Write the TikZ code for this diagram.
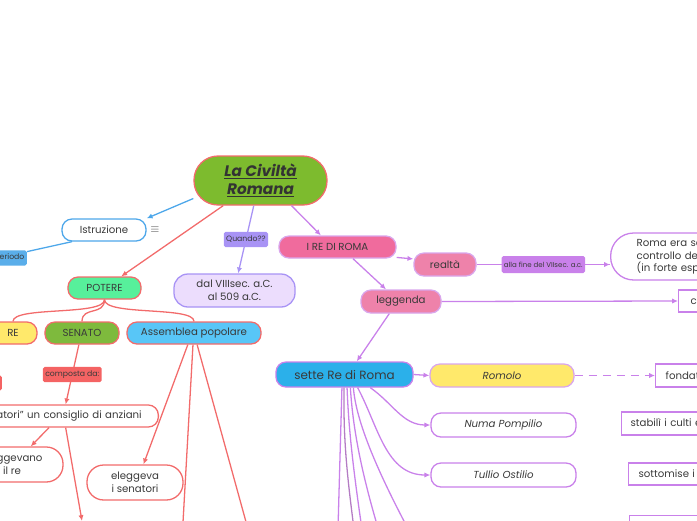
\documentclass[tikz,border=0pt]{standalone}
\usepackage{fontspec}
\setmainfont{Poppins}
\usetikzlibrary{arrows.meta}

\definecolor{cGreen}{HTML}{7DBB2E}
\definecolor{cRed}{HTML}{F26B6B}
\definecolor{cRedTag}{HTML}{F46363}
\definecolor{cBlue}{HTML}{4DA7EA}
\definecolor{cBlueTag}{HTML}{5AAEEA}
\definecolor{cMint}{HTML}{57F09B}
\definecolor{cViolet}{HTML}{A893F5}
\definecolor{cLilac}{HTML}{ECDDFD}
\definecolor{cPink}{HTML}{F06B9D}
\definecolor{cPinkSoft}{HTML}{EE82AA}
\definecolor{cPurple}{HTML}{C981EA}
\definecolor{cPurpleSoft}{HTML}{D9A6EC}
\definecolor{cSky}{HTML}{2BB0EA}
\definecolor{cSkyLight}{HTML}{58C6F7}
\definecolor{cYellow}{HTML}{FFE96B}
\definecolor{cOlive}{HTML}{7EBA3D}
\definecolor{cDark}{HTML}{B47CC4}
\definecolor{textgray}{HTML}{3A3A3A}

\begin{document}
\begin{tikzpicture}[x=0.03cm, y=-0.03cm,
    txt/.style={text=textgray, font=\fontsize{8.7}{10.8}\selectfont},
    box/.style={txt, draw, line width=1.1pt, rounded corners=0.3cm, minimum height=0.66cm, inner sep=1pt, align=center},
    tag/.style={text=textgray, font=\fontsize{6.6}{8}\selectfont, rounded corners=1.5pt, inner sep=2pt, minimum height=0.46cm},
    stub/.style={txt, draw=cPurple, line width=1.1pt, anchor=west, text width=8cm, align=left, minimum height=0.69cm},
    arr/.style={-{Latex[length=5pt,width=4.5pt]}},
    redl/.style={draw=cRed, line width=1.1pt},
    bluel/.style={draw=cBlue, line width=1.1pt},
    violetl/.style={draw=cViolet, line width=1.1pt},
    purplel/.style={draw=cPurple, line width=1.1pt}
  ]
    \useasboundingbox (0,0) rectangle (697,520);
    \clip (0,0) rectangle (697,520);

    % centre
    \node[box, fill=cGreen, draw=cRed, minimum width=3.99cm, minimum height=1.47cm, rounded corners=0.72cm,
          text=black!80, font=\fontsize{13}{15.5}\selectfont\bfseries\itshape] (title) at (260.5,180.5) {\underline{La Civiltà}\\\underline{Romana}};

    % left branch
    \node[box, draw=cBlue, fill=white, minimum width=2.52cm] (istr) at (104,230) {Istruzione};
    \node[text=textgray] (istrnote) at (155,230) {$\equiv$};
    \node[tag, fill=cBlueTag, anchor=east] (periodo) at (27,258) {periodo};
    \node[box, fill=cMint, draw=cRed, minimum width=2.19cm] (potere) at (104.5,288) {POTERE};

    \node[box, fill=cYellow, draw=cRed, minimum width=1.44cm] (re) at (13,333) {RE};
    \node[box, fill=cOlive, draw=cRed, minimum width=2.22cm] (senato) at (82,333) {SENATO};
    \node[box, fill=cSkyLight, draw=cRed, minimum width=4.02cm] (assemblea) at (194,333) {Assemblea popolare};
    \node[tag, fill=cRedTag, anchor=east, minimum width=1cm] (retag) at (2,383) {};

    \node[box, fill=white, draw=cRed, anchor=east, text width=8cm, align=right, inner xsep=0.5cm] (consiglio) at (159,416) {i “senatori” un consiglio di anziani};
    \node[box, fill=white, draw=cRed, minimum width=3.06cm, minimum height=1.05cm, rounded corners=0.5cm] (eleggevano) at (12,464.5) {eleggevano\\il re};
    \node[box, fill=white, draw=cRed, minimum width=2.88cm, minimum height=1.05cm, rounded corners=0.5cm] (eleggeva) at (135,482.5) {eleggeva\\i senatori};
    \coordinate (senDown) at (82,521);
    \coordinate (assA) at (182,540);
    \coordinate (assB) at (251,540);

    % middle
    \node[box, fill=cLilac, draw=cViolet, minimum width=3.63cm, minimum height=0.99cm, rounded corners=0.42cm] (dal) at (234.5,290.5) {dal VIIIsec. a.C.\\al 509 a.C.};

    % right branch
    \node[box, fill=cPink, draw=cPurpleSoft, minimum width=3.51cm] (rere) at (337.5,247) {I RE DI ROMA};
    \node[box, fill=cPinkSoft, draw=cPurpleSoft, minimum width=1.86cm, minimum height=0.69cm] (realta) at (445,264.5) {realtà};
    \node[box, fill=white, draw=cPurple, anchor=west, text width=5cm, align=left, inner xsep=0.78cm,
          minimum height=1.41cm, rounded corners=0.69cm, font=\fontsize{8.7}{11}\selectfont] (romaera) at (610,256.5)
          {Roma era sotto il\\controllo degli Etruschi\\(in forte espansione)};
    \node[box, fill=cPinkSoft, draw=cPurpleSoft, minimum width=2.4cm, minimum height=0.69cm] (leggenda) at (401,301.5) {leggenda};
    \node[stub, inner xsep=0.36cm, minimum height=0.66cm] (co) at (678,301) {come racconta la tradizione};

    \node[box, fill=cSky, draw=cPurple, minimum width=4.11cm, minimum height=0.75cm,
          font=\fontsize{10.2}{12}\selectfont] (sette) at (344.5,374.5) {sette Re di Roma};
    \node[box, fill=cYellow, draw=cPurpleSoft, minimum width=4.32cm, minimum height=0.69cm, font=\fontsize{8.7}{10.8}\itshape] (romolo) at (502,375.5) {Romolo};
    \node[box, fill=white, draw=cPurple, minimum width=4.35cm, minimum height=0.72cm, font=\fontsize{8.7}{10.8}\itshape] (numa) at (503.5,425) {Numa Pompilio};
    \node[box, fill=white, draw=cPurple, minimum width=4.35cm, minimum height=0.72cm, font=\fontsize{8.7}{10.8}\itshape] (tullio) at (503.5,475) {Tullio Ostilio};

    \node[stub, inner xsep=0.3cm] (fondat) at (655,375.5) {fondatore di Roma};
    \node[stub, inner xsep=0.27cm] (stabili) at (621,423.5) {stabilì i culti e le leggi};
    \node[stub, inner xsep=0.3cm, minimum height=0.66cm] (sottomise) at (628,474) {sottomise i vicini};
    \node[stub] (nextfact) at (629,527) {};

    % connectors from the centre
    \draw[bluel, arr] (title.195) -- (istr.north east);
    \draw[bluel] (istr.200) -- (periodo.20);
    \draw[redl, arr] (title.214) -- (potere);
    \draw[violetl, arr] (title.255) -- node[tag, fill=cViolet] (quando) {Quando??} (dal.78);
    \draw[purplel, arr] (title.-39) -- (rere.145);

    % potere
    \draw[redl] (potere.south) .. controls (104.5,316) and (13,306) .. (re.north);
    \draw[redl] (potere.south) .. controls (104.5,316) and (82,306) .. (senato.north);
    \draw[redl] (potere.south) .. controls (104.5,316) and (194,306) .. (assemblea.north);
    \draw[redl, arr] (senato.-105) -- node[tag, fill=cRedTag] (composta) {composta da:} ([xshift=-2.8cm]consiglio.north east);
    \draw[redl, arr] ([xshift=-3.3cm]consiglio.south east) -- (eleggevano.44);
    \draw[redl, arr] ([xshift=-2.8cm]consiglio.south east) -- (senDown);
    \draw[redl, arr] (assemblea.-118) -- (eleggeva.65);
    \draw[redl, arr] (assemblea.-95) -- (assA);
    \draw[redl, arr] (assemblea.-75) -- (assB);

    % re di roma
    \draw[purplel, arr] (rere.-10) -- (realta.170);
    \draw[purplel] (realta.east) -- node[tag, fill=cPurple, font=\fontsize{6}{7}\selectfont, minimum height=0.51cm] (fine) {alla fine del VIIsec. a.c.} (realta.east -| romaera.west);
    \draw[purplel, arr] (fine.east) -- (fine.east -| romaera.west);
    \draw[purplel, arr] (rere.-37) -- (leggenda.141);
    \draw[purplel, arr] (leggenda.east) -- (co.west);
    \draw[purplel, arr] (leggenda.-134) -- (sette.47);

    % sette re
    \draw[purplel, arr] (sette.east) -- (romolo.west);
    \draw[purplel, arr, dashed, dash pattern=on 7pt off 5pt] (romolo.east) -- (fondat.west);
    \draw[purplel, arr] (sette.-27) to[out=-35, in=180] (numa.west);
    \draw[purplel, arr] (sette.-45) to[out=-62, in=180] (tullio.west);
    \draw[purplel] (sette.-101) -- (336,600);
    \draw[draw=cDark, line width=1.1pt] (sette.-92) .. controls (343,450) and (349,490) .. (358,560);
    \draw[purplel] (sette.-79) .. controls (349,440) and (356,490) .. (368,570);
    \draw[purplel] (sette.-66) .. controls (353,430) and (362,480) .. (388,560);
    \draw[purplel] (sette.-56) .. controls (356,420) and (375,470) .. (425,560);
\end{tikzpicture}
\end{document}
